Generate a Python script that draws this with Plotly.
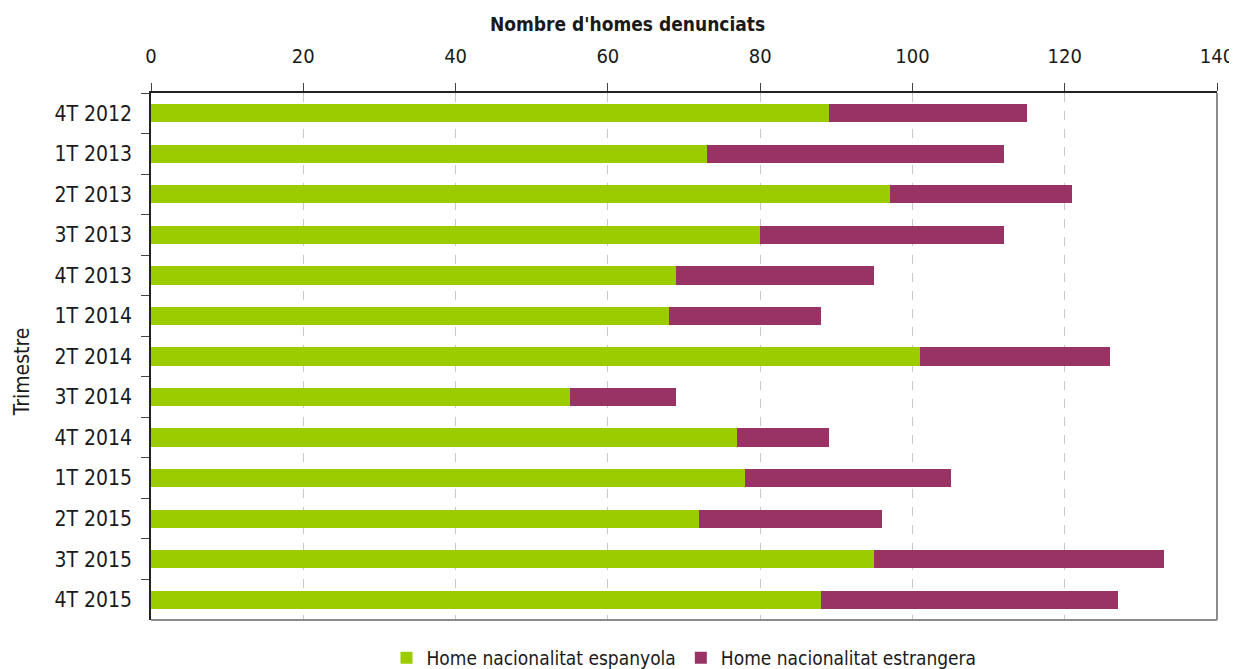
import plotly.graph_objects as go

trimestres = ["4T 2012", "1T 2013", "2T 2013", "3T 2013", "4T 2013", "1T 2014", "2T 2014",
              "3T 2014", "4T 2014", "1T 2015", "2T 2015", "3T 2015", "4T 2015"]
espanyola = [89, 73, 97, 80, 69, 68, 101, 55, 77, 78, 72, 95, 88]
estrangera = [26, 39, 24, 32, 26, 20, 25, 14, 12, 27, 24, 38, 39]

FONT = "DejaVu Sans Condensed, Liberation Sans Narrow, Arial Narrow, sans-serif"
TXT = "#1a1a1a"

fig = go.Figure()
fig.add_trace(go.Bar(y=trimestres, x=espanyola, orientation="h", name="Home nacionalitat espanyola",
                     marker=dict(color="#9BCC00", line=dict(width=0))))
fig.add_trace(go.Bar(y=trimestres, x=estrangera, orientation="h", name="Home nacionalitat estrangera",
                     marker=dict(color="#993366", line=dict(width=0))))

# the page body has an 8px default margin, so margins are shifted accordingly
fig.update_layout(
    barmode="stack",
    bargap=0.55,
    width=1237, height=669,
    margin=dict(l=143, r=28, t=85, b=57),
    paper_bgcolor="white", plot_bgcolor="white",
    font=dict(family=FONT, size=20, color=TXT),
    showlegend=True,
    legend=dict(orientation="h", x=0.5, xanchor="center", yref="container", y=0.0, yanchor="bottom",
                font=dict(family=FONT, size=19, color=TXT), traceorder="normal",
                itemwidth=30, tracegroupgap=0),
    xaxis=dict(side="top", range=[0, 140], dtick=20, tick0=0, automargin=False,
               showgrid=True, gridcolor="#c8c8c8", griddash="dash", gridwidth=1,
               showline=True, linecolor="#222222", linewidth=1.5,
               ticks="outside", ticklen=8, tickcolor="#444444",
               tickfont=dict(family=FONT, size=20, color=TXT),
               ticklabelstandoff=12, ticklabeloverflow="allow", zeroline=False),
    yaxis=dict(categoryorder="array", categoryarray=trimestres, autorange="reversed", automargin=False,
               showline=True, linecolor="#222222", linewidth=1.5,
               ticks="outside", ticklen=8, tickcolor="#444444", tickson="boundaries",
               tickfont=dict(family=FONT, size=21, color=TXT),
               ticklabelstandoff=13, showgrid=False),
    annotations=[
        dict(text="<b>Nombre d'homes denunciats</b>", xref="paper", yref="paper",
             x=0.447, y=1.131, xanchor="center", yanchor="middle", showarrow=False,
             font=dict(family=FONT, size=19, color=TXT)),
        dict(text="Trimestre", xref="paper", yref="paper", textangle=-90,
             x=-0.121, y=0.47, xanchor="center", yanchor="middle", showarrow=False,
             font=dict(family=FONT, size=21, color=TXT)),
    ],
    shapes=[
        dict(type="line", xref="paper", yref="paper", x0=1, x1=1, y0=0, y1=1,
             line=dict(color="#8c8c8c", width=2)),
        dict(type="line", xref="paper", yref="paper", x0=0, x1=1, y0=0, y1=0,
             line=dict(color="#8c8c8c", width=2)),
    ],
)

fig.write_html("out.html",
               post_script="document.documentElement.style.overflow='hidden';"
                           "document.body.style.overflow='hidden';")
